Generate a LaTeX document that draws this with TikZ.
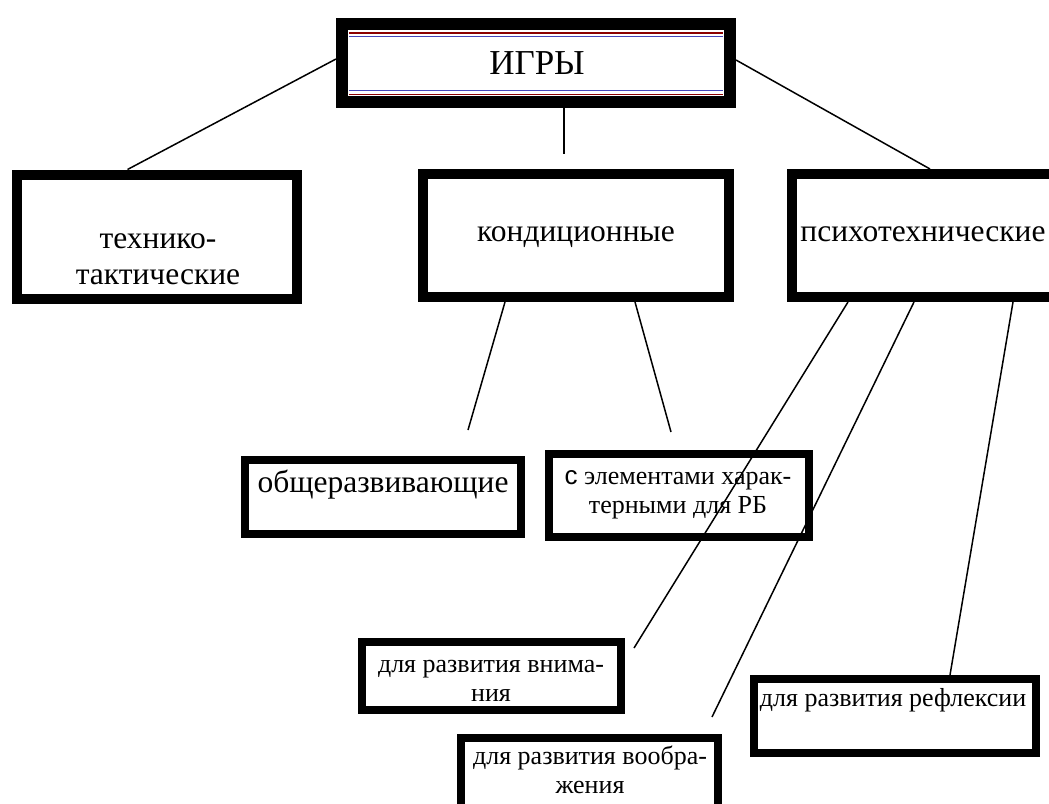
\documentclass[tikz,border=0pt]{standalone}
\usepackage{fontspec}
\setmainfont{Liberation Serif}
\newfontfamily\sansf{Liberation Sans}
\usetikzlibrary{calc}
\begin{document}
\begin{tikzpicture}[x=1pt,y=-1pt,
  frame/.style={draw=black, inner sep=0pt},
  bigframe/.style={frame, line width=12pt},
  midframe/.style={frame, line width=10pt},
  lowframe/.style={frame, line width=8pt},
  conn/.style={line width=1.5pt},
  title/.style={inner sep=0pt, font=\fontsize{35}{40}\selectfont},
  lbl/.style={align=center, inner sep=0pt, font=\fontsize{31.5}{36}\selectfont},
  lbls/.style={align=center, inner sep=0pt, font=\fontsize{26}{29}\selectfont}]
\useasboundingbox (0,0) rectangle (1049,803);
\clip (0,0) rectangle (1049,803);
\fill[white] (0,0) rectangle (1049,803);

% boxes
\node[bigframe, minimum width=388pt, minimum height=78pt] (top) at (536,63) {};
\node[midframe, minimum width=280pt, minimum height=124pt] (tt) at (156.5,236.5) {};
\node[midframe, minimum width=306pt, minimum height=123pt] (kd) at (576,235.5) {};
\node[midframe, minimum width=270pt, minimum height=123pt] (pt) at (927,235.5) {};
\node[lowframe, minimum width=276pt, minimum height=74pt] (ob) at (383,497) {};
\node[lowframe, minimum width=260pt, minimum height=83pt] (el) at (679,495.5) {};
\node[lowframe, minimum width=259pt, minimum height=68pt] (vn) at (491.5,676) {};
\node[lowframe, minimum width=257pt, minimum height=82pt] (vo) at (589.5,779) {};
\node[lowframe, minimum width=282pt, minimum height=74pt] (rf) at (895,716) {};

% decorative lines inside the title box
\draw[line width=1.3pt, red!55!black] (349,33) -- (723,33);
\draw[line width=1.3pt, blue!45!gray] (349,36.5) -- (723,36.5);
\draw[line width=1.3pt, blue!45!gray] (349,90.5) -- (723,90.5);
\draw[line width=1.3pt, red!55!black] (349,94.5) -- (723,94.5);

% texts
\node[title] (ttl) at (537,63) {ИГРЫ};
\node[lbl] (ttx) at (158,259) {технико-\\тактические};
\node[lbl] (kdx) at (576,237) {кондиционные};
\node[lbl] (ptx) at (923,234) {психотехнические};
\node[lbl] (obx) at (383,485) {общеразвивающие};
\node[lbls] (elx) at (678,495) {{\sansf с} элементами харак-\\терными для РБ};
\node[lbls] (vnx) at (491,681) {для развития внима-\\ния};
\node[lbls] (vox) at (590,770) {для развития вообра-\\жения};
\node[lbls] (rfx) at (893,700) {для развития рефлексии};

% free ends
\coordinate (kdend) at (564,154);
\coordinate (obend) at (468,430);
\coordinate (elend) at (671,432);
\coordinate (vnend) at (634,648);
\coordinate (voend) at (712,717);

% connectors
\draw[conn] ($(top.west)+(0,-4)$) -- ($(tt.north west)+(116,0)$);
\draw[conn] ($(top.south west)+(228,0)$) -- (kdend);
\draw[conn] ($(top.east)+(0,-3)$) -- ($(pt.north west)+(143,0)$);
\draw[conn] ($(kd.south west)+(87,0)$) -- (obend);
\draw[conn] ($(kd.south west)+(217,0)$) -- (elend);
\draw[conn] ($(pt.south west)+(61,0)$) -- (vnend);
\draw[conn] ($(pt.south west)+(127,0)$) -- (voend);
\draw[conn] ($(pt.south west)+(226,0)$) -- ($(rf.north west)+(200,0)$);
\end{tikzpicture}
\end{document}
